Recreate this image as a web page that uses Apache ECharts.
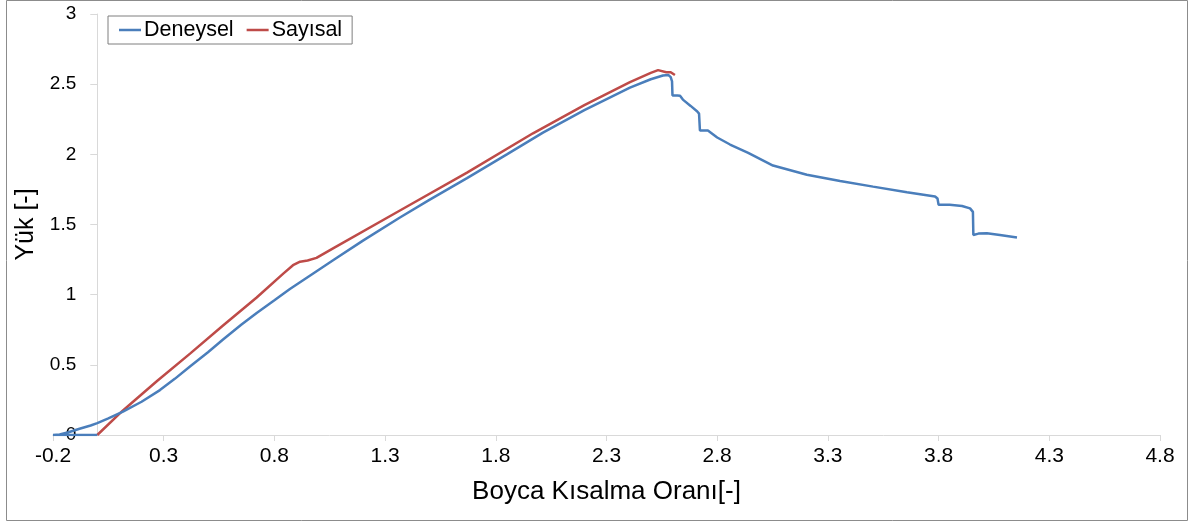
<!DOCTYPE html>
<html>
<head>
<meta charset="utf-8">
<script src="https://cdn.jsdelivr.net/npm/echarts@6/dist/echarts.min.js"></script>
<style>
  html, body { margin: 0; padding: 0; background: #fff; }
  #chart { width: 1194px; height: 524px; }
</style>
</head>
<body>
<div id="chart"></div>
<script>
// Load–shortening curves: experiment (Deneysel) vs. numerical model (Sayısal)
const seriesNames = ['Deneysel', 'Sayısal'];

const xTicks = [-0.2, 0.3, 0.8, 1.3, 1.8, 2.3, 2.8, 3.3, 3.8, 4.3, 4.8];
const yTicks = [0, 0.5, 1, 1.5, 2, 2.5, 3];

// [shortening ratio, load]
const deneysel = [
  [0, 0], [-0.2, 0], [-0.17, 0.004], [-0.13, 0.02], [-0.08, 0.045], [-0.03, 0.068],
  [0, 0.085], [0.05, 0.118], [0.116, 0.166], [0.2, 0.237], [0.283, 0.32],
  [0.35, 0.4], [0.42, 0.49], [0.5, 0.59], [0.568, 0.68], [0.65, 0.785],
  [0.72, 0.87], [0.8, 0.96], [0.87, 1.04], [0.96, 1.135], [1.065, 1.245],
  [1.2, 1.385], [1.367, 1.55], [1.5, 1.675], [1.67, 1.83], [1.85, 2.0],
  [2.013, 2.155], [2.2, 2.315], [2.406, 2.475], [2.5, 2.535], [2.555, 2.562],
  [2.58, 2.565], [2.59, 2.55], [2.596, 2.52], [2.598, 2.42], [2.62, 2.42],
  [2.632, 2.418], [2.645, 2.39], [2.68, 2.345], [2.71, 2.305], [2.718, 2.29],
  [2.722, 2.17], [2.758, 2.17], [2.8, 2.12], [2.858, 2.07], [2.94, 2.01],
  [3.052, 1.92], [3.205, 1.855], [3.355, 1.81], [3.504, 1.77], [3.657, 1.73],
  [3.784, 1.7], [3.795, 1.685], [3.8, 1.64], [3.85, 1.64], [3.906, 1.632],
  [3.942, 1.615], [3.955, 1.59], [3.957, 1.425], [3.98, 1.435], [4.018, 1.438],
  [4.077, 1.425], [4.154, 1.408]
];

const sayisal = [
  [0, 0], [0.116, 0.175], [0.27, 0.385], [0.419, 0.58], [0.568, 0.78],
  [0.72, 0.98], [0.84, 1.15], [0.884, 1.21], [0.916, 1.235], [0.95, 1.243],
  [0.99, 1.262], [1.065, 1.33], [1.367, 1.6], [1.67, 1.87], [1.968, 2.15],
  [2.2, 2.35], [2.406, 2.515], [2.5, 2.58], [2.533, 2.6], [2.57, 2.585],
  [2.59, 2.585], [2.609, 2.565]
];

const FONT = '"Liberation Sans", Arial, sans-serif';
const GRID = { left: 53, right: 34, top: 14, bottom: 89 };
const X_MIN = -0.2, X_MAX = 4.8;
const chartEl = document.getElementById('chart');
const chart = echarts.init(chartEl);

// the vertical axis sits where x = 0, inside the plot area
const plotW = chartEl.clientWidth - GRID.left - GRID.right;
const yAxisShift = -(0 - X_MIN) / (X_MAX - X_MIN) * plotW;

chart.setOption({
  animation: false,
  backgroundColor: '#fff',
  textStyle: { fontFamily: FONT, color: '#000' },
  graphic: [{
    type: 'rect',
    shape: { x: 6.5, y: 0.5, width: 1181, height: 520 },
    style: { fill: 'none', stroke: '#8c8c8c', lineWidth: 1 },
    silent: true
  }],
  legend: {
    left: 108, top: 16,
    padding: [3, 10, 3, 11],
    borderColor: '#7f7f7f', borderWidth: 1,
    icon: 'rect', itemWidth: 22, itemHeight: 2.5, itemGap: 13,
    textStyle: { fontSize: 21.5, fontFamily: FONT, color: '#000', padding: [0, 0, 0, -2] },
    data: seriesNames
  },
  grid: Object.assign({ outerBoundsMode: 'none', containLabel: false }, GRID),
  xAxis: {
    type: 'value', min: X_MIN, max: X_MAX, interval: 0.5,
    name: 'Boyca Kısalma Oranı[-]', nameLocation: 'middle', nameGap: 44,
    nameTextStyle: { fontSize: 26, fontFamily: FONT, color: '#000' },
    axisLine: { show: true, onZero: false, lineStyle: { color: '#d9d9d9', width: 1 } },
    axisTick: { show: true, length: 6, customValues: xTicks, lineStyle: { color: '#d9d9d9' } },
    axisLabel: {
      customValues: xTicks, margin: 11, fontSize: 21, color: '#000', fontFamily: FONT,
      formatter: v => v.toFixed(1)
    },
    splitLine: { show: false }
  },
  yAxis: {
    type: 'value', min: 0, max: 3, interval: 0.5,
    offset: yAxisShift,
    name: 'Yük [-]', nameLocation: 'middle', nameGap: 56,
    nameTextStyle: { fontSize: 25, fontFamily: FONT, color: '#000' },
    axisLine: { show: true, onZero: false, lineStyle: { color: '#d9d9d9', width: 1 } },
    axisTick: { show: true, length: 7, customValues: yTicks, lineStyle: { color: '#d9d9d9' } },
    axisLabel: { customValues: yTicks, margin: 21, fontSize: 19, color: '#000', fontFamily: FONT },
    splitLine: { show: false }
  },
  series: [
    {
      name: seriesNames[0], type: 'line', data: deneysel,
      symbol: 'none', smooth: false,
      lineStyle: { color: '#4a7ebb', width: 2.5 },
      itemStyle: { color: '#4a7ebb' }, z: 3
    },
    {
      name: seriesNames[1], type: 'line', data: sayisal,
      symbol: 'none', smooth: false,
      lineStyle: { color: '#be4b48', width: 2.5 },
      itemStyle: { color: '#be4b48' }, z: 2
    }
  ]
});
</script>
</body>
</html>
